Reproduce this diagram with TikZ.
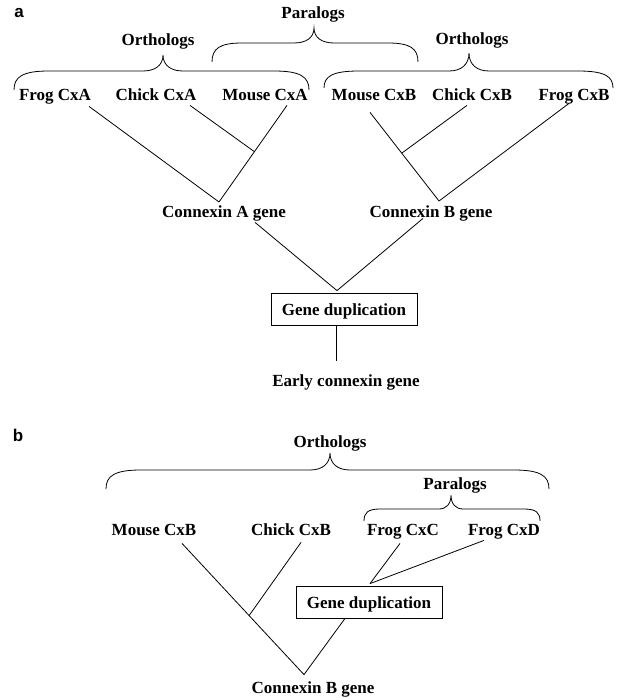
\documentclass[tikz,border=0pt]{standalone}
\usepackage{fontspec}
\setmainfont{Liberation Serif}
\newfontfamily\labsans{Liberation Sans}
\usetikzlibrary{calc}
% brace: xl, xr, y bottom (ends), y horizontal, x tip, y tip, corner length, tip half-width
\newcommand\mybrace[8]{%
  \draw (#1,#3) .. controls (#1,{#4+0.3*(#3-#4)}) and ({#1+0.25*#7},#4) .. ({#1+#7},#4)
    -- ({#5-#8},#4) .. controls ({#5-0.4*#8},#4) and (#5,{#4-0.35*(#4-#6)}) .. (#5,#6)
    .. controls (#5,{#4-0.35*(#4-#6)}) and ({#5+0.4*#8},#4) .. ({#5+#8},#4)
    -- ({#2-#7},#4) .. controls ({#2-0.25*#7},#4) and (#2,{#4+0.3*(#3-#4)}) .. (#2,#3);}
\begin{document}
\begin{tikzpicture}[x=1pt,y=-1pt,line width=0.8pt,
  lbl/.style={font=\fontsize{17}{20}\selectfont\bfseries, inner sep=0pt, anchor=base,
              text height=12pt, text depth=4pt},
  gbox/.style={draw, font=\fontsize{17}{20}\selectfont\bfseries, inner sep=0pt,
               minimum width=146pt, minimum height=32pt, text height=12pt, text depth=0pt},
  panel/.style={font=\labsans\fontsize{17}{20}\selectfont\bfseries, inner sep=0pt, anchor=base}]
\useasboundingbox (0,0) rectangle (621,698);
\fill[white] (0,0) rectangle (621,698);

% ---------- panel a ----------
\node[panel] (la) at (19,18) {a};
\node[lbl] (orthA) at (158,46) {Orthologs};
\node[lbl] (paraA) at (313,19) {Paralogs};
\node[lbl] (orthB) at (472,45) {Orthologs};
\node[lbl] (fA) at (55,101) {Frog CxA};
\node[lbl] (cA) at (156,101) {Chick CxA};
\node[lbl] (mA) at (265,101) {Mouse CxA};
\node[lbl] (mB) at (374,101) {Mouse CxB};
\node[lbl] (cB) at (472,101) {Chick CxB};
\node[lbl] (fB) at (574,101) {Frog CxB};
\node[lbl] (genA) at (224,217) {Connexin A gene};
\node[lbl] (genB) at (431,217) {Connexin B gene};
\node[gbox] (dup1) at (344,309) {Gene duplication};
\node[lbl] (early) at (346,386) {Early connexin gene};

\mybrace{14}{309}{90}{71}{163}{55}{35}{20}
\mybrace{212}{418}{62}{43}{314}{28}{30}{20}
\mybrace{324}{613}{88}{71}{469}{53}{35}{20}

\coordinate (vA) at (219,202);
\coordinate (vB) at (439,201);
\coordinate (sMA) at ([xshift=22pt]mA.south);
\draw ([xshift=34pt,yshift=-1pt]fA.south) -- (vA);
\draw (sMA) -- (vA);
\draw ([xshift=34pt]cA.south) -- ($(sMA)!0.479!(vA)$);
\coordinate (sMB) at ([xshift=-4pt,yshift=-7pt]mB.south);
\draw (sMB) -- (vB);
\draw ([xshift=-5pt]cB.south) -- ($(sMB)!0.46!(vB)$);
\draw ([xshift=-5pt,yshift=2pt]fB.south) -- (vB);
\coordinate (tA) at ([xshift=-7pt,yshift=2pt]dup1.north);
\draw ([xshift=31pt,yshift=-1pt]genA.south) -- (tA);
\draw ([xshift=-8pt,yshift=3pt]genB.south) -- (tA);
\draw ([xshift=-8pt]dup1.south) -- ([xshift=-10pt,yshift=13pt]early.north);

% ---------- panel b ----------
\node[panel] (lb) at (18,441) {b};
\node[lbl] (orthC) at (330,447) {Orthologs};
\node[lbl] (paraC) at (455,489) {Paralogs};
\node[lbl] (mB2) at (154,535) {Mouse CxB};
\node[lbl] (cB2) at (291,535) {Chick CxB};
\node[lbl] (fC) at (403,535) {Frog CxC};
\node[lbl] (fD) at (504,535) {Frog CxD};
\node[gbox] (dup2) at (369,602) {Gene duplication};
\node[lbl] (genB2) at (313,693) {Connexin B gene};

\mybrace{106}{549}{489}{470}{330}{453}{35}{20}
\mybrace{364}{540}{521}{509}{451}{495}{16}{12}

\coordinate (vB2) at ([xshift=-9pt,yshift=6pt]genB2.north);
\coordinate (sMB2) at ([xshift=28pt,yshift=-4pt]mB2.south);
\draw (sMB2) -- (vB2);
\draw ([xshift=10pt,yshift=-3pt]cB2.south) -- ($(sMB2)!0.55!(vB2)$);
\coordinate (tD) at ([xshift=1pt,yshift=2pt]dup2.north);
\draw ([xshift=-3pt,yshift=-4pt]fC.south) -- (tD);
\draw ([xshift=-20pt,yshift=-1pt]fD.south) -- (tD);
\draw ([xshift=-24pt]dup2.south) -- (vB2);
\end{tikzpicture}
\end{document}
